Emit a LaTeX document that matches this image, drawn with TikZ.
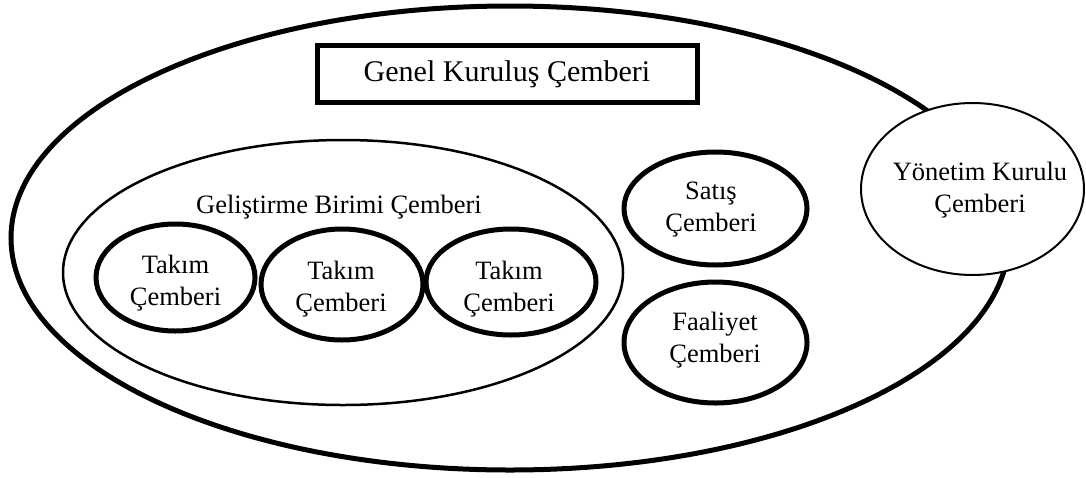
\documentclass[tikz,border=0pt]{standalone}
\usepackage{fontspec}
\setmainfont{Liberation Serif}
\usetikzlibrary{shapes.geometric}
\begin{document}
\begin{tikzpicture}[x=1pt,y=-1pt,
  heavy/.style={draw=black, line width=5pt},
  light/.style={draw=black, line width=2pt},
  oval/.style={ellipse, inner sep=0pt, outer sep=0pt},
  lbl/.style={inner sep=0pt, align=center, font=\fontsize{26.5}{32}\selectfont},
]
\useasboundingbox (0,0) rectangle (1086,477);

% outer circle: general assembly
\node[oval, heavy, minimum width=998, minimum height=464] (outer) at (510,238) {};
\node[heavy, rectangle, minimum width=380, minimum height=56.5, inner sep=0pt,
      font=\fontsize{30}{36}\selectfont] (gkc) at (507,74) {Genel Kuruluş Çemberi};

% development unit circle with team circles
\node[oval, light, line width=2.5pt, minimum width=560, minimum height=265] (gbc) at (343,272.5) {};
\node[lbl, anchor=base] (gbctext) at (339,213) {Geliştirme Birimi Çemberi};

\node[oval, heavy, minimum width=159, minimum height=107] (t1) at (175.5,277.5) {};
\node[oval, heavy, minimum width=162, minimum height=111] (t2) at (342,284.5) {};
\node[oval, heavy, minimum width=170, minimum height=106] (t3) at (511,282) {};
\node[lbl] (t1text) at (175.5,283) {Takım\\Çemberi};
\node[lbl] (t2text) at (341,288.8) {Takım\\Çemberi};
\node[lbl] (t3text) at (509,288.8) {Takım\\Çemberi};

% sales and activity circles
\node[oval, heavy, minimum width=183, minimum height=113] (sc) at (715.5,208.5) {};
\node[lbl] (sctext) at (711,209.8) {Satış\\Çemberi};
\node[oval, heavy, minimum width=183, minimum height=121] (fc) at (715.5,342.5) {};
\node[lbl] (fctext) at (715,340.6) {Faaliyet\\Çemberi};

% board circle overlapping the outer circle
\node[oval, light, fill=white, minimum width=223, minimum height=172] (ykc) at (972.5,189) {};
\node[lbl] (ykctext) at (980,189.8) {Yönetim Kurulu\\Çemberi};
\end{tikzpicture}
\end{document}
